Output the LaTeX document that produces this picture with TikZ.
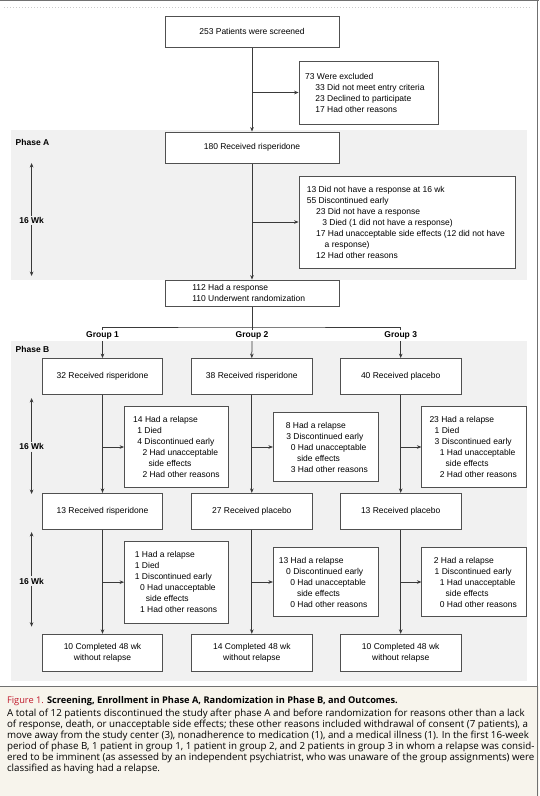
\documentclass[tikz,border=0pt]{standalone}
\usepackage{fontspec}
\setmainfont{Liberation Sans}
\newfontfamily\capfont{Open Sans}
\usetikzlibrary{arrows.meta}
\definecolor{boxc}{HTML}{505050}
\definecolor{linec}{HTML}{3A3A3A}
\definecolor{phasebg}{HTML}{F1F1F1}
\definecolor{capbg}{HTML}{F7F4EC}
\definecolor{figred}{HTML}{C0192B}
\definecolor{framec}{HTML}{707070}
\newcommand\fsz{\fontsize{8.5}{11}\selectfont}
\newcommand\ind[1]{\hspace*{#1pt}}
\tikzset{
  box/.style={draw=boxc, line width=0.8pt, fill=white, inner sep=0pt, font=\fsz, align=center},
  mbox/.style={box, minimum width=120.5pt, minimum height=36pt},
  txt/.style={inner sep=0pt, align=left, font=\fsz, anchor=west},
  ln/.style={draw=linec, line width=0.75pt},
  arr/.style={ln, -{Stealth[length=4.5pt,width=3.6pt]}},
  lbl/.style={font=\fsz\bfseries, inner sep=1.5pt},
}
\begin{document}
\begin{tikzpicture}[x=1pt,y=-1pt]
\useasboundingbox (0,0) rectangle (539,796);
% frame and backgrounds
\fill[white] (0,0) rectangle (539,796);
\draw[gray!40, line width=0.6pt, dash pattern=on 0.6pt off 2.4pt] (4,7) -- (532,7);
\fill[phasebg] (11,130) rectangle (527,280);
\fill[phasebg] (11,341) rectangle (527,681);
\fill[capbg] (0,686) rectangle (539,796);
\draw[framec, line width=0.8pt] (0,686) -- (537,686);
\draw[framec, line width=1.2pt] (0,0.6) -- (539,0.6);
\draw[framec, line width=1.2pt] (537.6,0) -- (537.6,796);

% screening
\node[box, minimum width=174pt, minimum height=31pt] (top) at (252,31.7) {253 Patients were screened};
\node[box, minimum width=139pt, minimum height=63pt] (excl) at (368.5,92.5) {};
\node[txt] (exclt) at (excl.west) {\ind{6.3}73 Were excluded\\
\ind{16.6}33 Did not meet entry criteria\\
\ind{16.6}23 Declined to participate\\
\ind{16.6}17 Had other reasons};

% phase A
\node[anchor=west, lbl, inner sep=0pt] (phA) at (15.5,142) {Phase A};
\node[box, minimum width=174pt, minimum height=31.5pt] (ra) at (252,147.75) {180 Received risperidone};
\node[box, minimum width=216pt, minimum height=92pt] (pas) at (407,222) {};
\node[txt] (past) at (pas.west) {\ind{8}13 Did not have a response at 16 wk\\
\ind{8}55 Discontinued early\\
\ind{17.3}23 Did not have a response\\
\ind{23.5}3 Died (1 did not have a response)\\
\ind{17.3}17 Had unacceptable side effects (12 did not have\\
\ind{25.9}a response)\\
\ind{17.3}12 Had other reasons};
\node[box, minimum width=174pt, minimum height=26.5pt] (resp) at (252,293.25) {};
\node[txt] (respt) at (resp.west) {\ind{27.5}112 Had a response\\
\ind{27.5}110 Underwent randomization};
\node[lbl] (wkA) at (31.6,220.6) {16 Wk};
\coordinate (wkA1) at (31.6,163);
\coordinate (wkA2) at (31.6,276);

% phase B labels
\node[anchor=west, lbl, inner sep=0pt] (phB) at (15.5,349) {Phase B};
\node[lbl] (g1) at (102.5,335.5) {Group 1};
\node[lbl] (g2) at (252,335.5) {Group 2};
\node[lbl] (g3) at (400.7,335.5) {Group 3};
\coordinate (split) at (252,327);

% row 1
\node[mbox] (b11) at (102.5,376.5) {32 Received risperidone};
\node[mbox] (b12) at (251.8,376.5) {38 Received risperidone};
\node[mbox] (b13) at (400.7,376.5) {40 Received placebo};
\node[box, minimum width=104.1pt, minimum height=80.8pt] (s11) at (176.55,447) {};
\node[box, minimum width=104.8pt, minimum height=68.4pt] (s12) at (325.7,447) {};
\node[box, minimum width=104.2pt, minimum height=80.7pt] (s13) at (473.9,447) {};
\node[txt] (s11t) at (s11.west) {\ind{8.9}14 Had a relapse\\
\ind{13}1 Died\\
\ind{13}4 Discontinued early\\
\ind{18.2}2 Had unacceptable\\
\ind{24.3}side effects\\
\ind{18.2}2 Had other reasons};
\node[txt] (s12t) at (s12.west) {\ind{12.7}8 Had a relapse\\
\ind{13.2}3 Discontinued early\\
\ind{17.7}0 Had unacceptable\\
\ind{24}side effects\\
\ind{17.7}3 Had other reasons};
\node[txt] (s13t) at (s13.west) {\ind{7.9}23 Had a relapse\\
\ind{13.1}1 Died\\
\ind{13.1}3 Discontinued early\\
\ind{18.2}1 Had unacceptable\\
\ind{24.1}side effects\\
\ind{18.2}2 Had other reasons};
\node[lbl] (wk1) at (31.6,446.8) {16 Wk};
\coordinate (wk11) at (31.6,398);
\coordinate (wk12) at (31.6,494);

% row 2
\node[mbox] (b21) at (102.5,511.3) {13 Received risperidone};
\node[mbox] (b22) at (251.8,511.3) {27 Received placebo};
\node[mbox] (b23) at (400.7,511.3) {13 Received placebo};
\node[box, minimum width=104.1pt, minimum height=81.5pt] (s21) at (176.55,582.15) {};
\node[box, minimum width=104.8pt, minimum height=68.7pt] (s22) at (325.7,582) {};
\node[box, minimum width=104.2pt, minimum height=68.7pt] (s23) at (473.9,582) {};
\node[txt] (s21t) at (s21.west) {\ind{10.6}1 Had a relapse\\
\ind{10.6}1 Died\\
\ind{10.6}1 Discontinued early\\
\ind{15.8}0 Had unacceptable\\
\ind{21.6}side effects\\
\ind{15.8}1 Had other reasons};
\node[txt] (s22t) at (s22.west) {\ind{5.8}13 Had a relapse\\
\ind{13.1}0 Discontinued early\\
\ind{17.2}0 Had unacceptable\\
\ind{24}side effects\\
\ind{17.2}0 Had other reasons};
\node[txt] (s23t) at (s23.west) {\ind{12.2}2 Had a relapse\\
\ind{13.1}1 Discontinued early\\
\ind{18.2}1 Had unacceptable\\
\ind{24.1}side effects\\
\ind{18.2}0 Had other reasons};
\node[lbl] (wk2) at (31.6,581) {16 Wk};
\coordinate (wk21) at (31.6,532);
\coordinate (wk22) at (31.6,626.7);

% row 3
\node[mbox, minimum height=36.8pt] (b31) at (102.5,652.6) {10 Completed 48 wk\\without relapse};
\node[mbox, minimum height=36.8pt] (b32) at (251.8,652.6) {14 Completed 48 wk\\without relapse};
\node[mbox, minimum height=36.8pt] (b33) at (400.7,652.6) {10 Completed 48 wk\\without relapse};

% connectors
\draw[arr] (top.south) -- (ra.north);
\draw[arr] (top.south |- excl.west) -- (excl.west);
\draw[arr] (ra.south) -- (resp.north);
\draw[arr] (ra.south |- pas.west) -- (pas.west);
\draw[arr] (wkA.north) -- (wkA1);
\draw[arr] (wkA.south) -- (wkA2);
\draw[ln] (resp.south) -- (split);
\draw[ln] (g1.north) |- (split) -| (g3.north);
\draw[ln] (split) -- (g2.north);
\draw[arr] (g1.south) -- (b11.north);
\draw[arr] (g2.south) -- (b12.north);
\draw[arr] (g3.south) -- (b13.north);
\draw[arr] (b11.south) -- (b21.north);
\draw[arr] (b12.south) -- (b22.north);
\draw[arr] (b13.south) -- (b23.north);
\draw[arr] (b11.south |- s11.west) -- (s11.west);
\draw[arr] (b12.south |- s12.west) -- (s12.west);
\draw[arr] (b13.south |- s13.west) -- (s13.west);
\draw[arr] (wk1.north) -- (wk11);
\draw[arr] (wk1.south) -- (wk12);
\draw[arr] (b21.south) -- (b31.north);
\draw[arr] (b22.south) -- (b32.north);
\draw[arr] (b23.south) -- (b33.north);
\draw[arr] (b21.south |- s21.west) -- (s21.west);
\draw[arr] (b22.south |- s22.west) -- (s22.west);
\draw[arr] (b23.south |- s23.west) -- (s23.west);
\draw[arr] (wk2.north) -- (wk21);
\draw[arr] (wk2.south) -- (wk22);

% caption
\node[anchor=north west, inner sep=0pt, font=\capfont\fontsize{9.25}{11}\selectfont] (captitle) at (6.9,696.5)
  {\textcolor{figred}{Figure 1.} \textbf{Screening, Enrollment in Phase A, Randomization in Phase B, and Outcomes.}};
\node[anchor=north west, inner sep=0pt, align=left, font=\capfont\fontsize{9.75}{11}\selectfont] (capbody) at (6.9,709)
  {A total of 12 patients discontinued the study after phase A and before randomization for reasons other than a lack\\
of response, death, or unacceptable side effects; these other reasons included withdrawal of consent (7 patients), a\\
move away from the study center (3), nonadherence to medication (1), and a medical illness (1). In the first 16-week\\
period of phase B, 1 patient in group 1, 1 patient in group 2, and 2 patients in group 3 in whom a relapse was consid-\\
ered to be imminent (as assessed by an independent psychiatrist, who was unaware of the group assignments) were\\
classified as having had a relapse.};
\end{tikzpicture}
\end{document}
